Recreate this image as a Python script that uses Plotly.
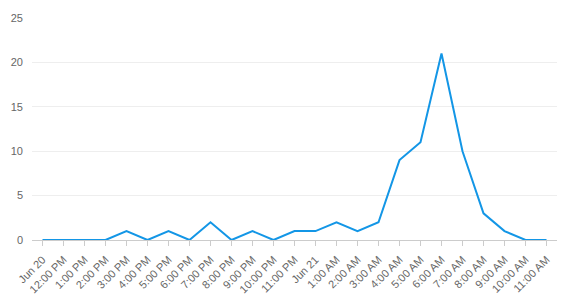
import plotly.graph_objects as go

categories = ["Jun 20", "12:00 PM", "1:00 PM", "2:00 PM", "3:00 PM", "4:00 PM", "5:00 PM",
              "6:00 PM", "7:00 PM", "8:00 PM", "9:00 PM", "10:00 PM", "11:00 PM", "Jun 21",
              "1:00 AM", "2:00 AM", "3:00 AM", "4:00 AM", "5:00 AM", "6:00 AM", "7:00 AM",
              "8:00 AM", "9:00 AM", "10:00 AM", "11:00 AM"]
values = [0, 0, 0, 0, 1, 0, 1, 0, 2, 0, 1, 0, 1, 1, 2, 1, 2, 9, 11, 21, 10, 3, 1, 0, 0]
y_ticks = [0, 5, 10, 15, 20, 25]

fig = go.Figure(go.Scatter(
    x=categories, y=values, mode="lines",
    line=dict(color="#1396e6", width=2), hoverinfo="x+y"))

fig.update_layout(
    width=568, height=307,
    margin=dict(l=32, r=11, t=18, b=67),
    paper_bgcolor="white", plot_bgcolor="white",
    font=dict(family="Liberation Sans, Arial, sans-serif", size=11, color="#666666"),
    showlegend=False,
)
fig.update_xaxes(
    type="category", range=[-0.5, 24.5], tickangle=-45,
    showgrid=False, showline=True, linecolor="#cccccc", linewidth=1,
    ticks="outside", ticklen=5, tickcolor="#cccccc", ticklabelstandoff=3,
    tickfont=dict(size=11, color="#666666"),
)
fig.update_yaxes(
    range=[0, 25], tickvals=y_ticks, showgrid=True, gridcolor="#eeeeee",
    zeroline=False, showline=False, ticks="", ticklabelstandoff=8,
    tickfont=dict(size=11, color="#666666"),
)

fig.write_html("out.html")
